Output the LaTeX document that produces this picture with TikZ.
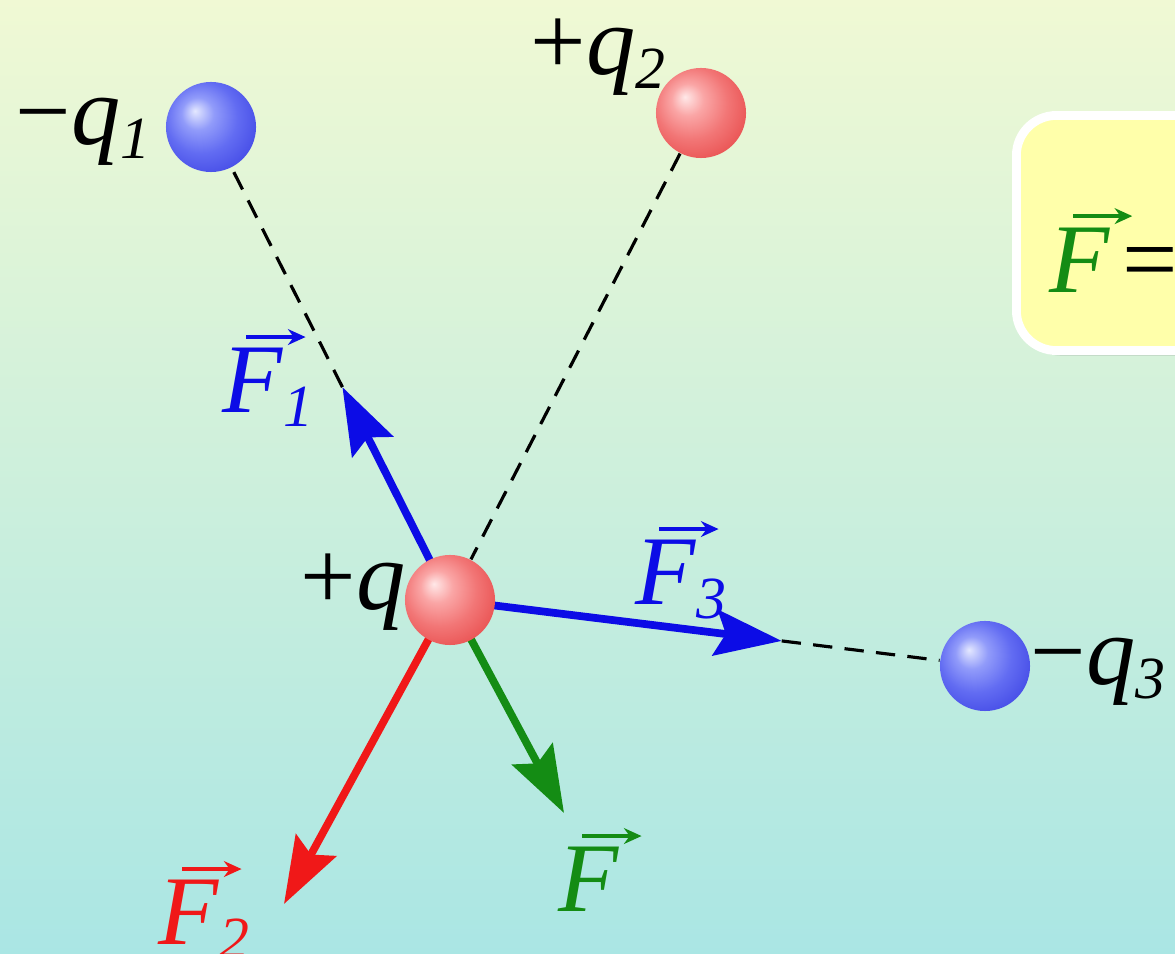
\documentclass[tikz,border=0pt]{standalone}
\usepackage{fontspec}
\setmainfont{Liberation Serif}
\usetikzlibrary{arrows.meta,calc,shadows,positioning}

\definecolor{azul}{RGB}{12,12,230}
\definecolor{vermelho}{RGB}{240,24,24}
\definecolor{verde}{RGB}{20,140,20}
\definecolor{fundotopo}{RGB}{240,249,212}
\definecolor{fundobase}{RGB}{170,230,228}
\definecolor{amarelo}{RGB}{255,255,170}
% tons das esferas
\definecolor{azul0}{RGB}{228,232,255}
\definecolor{azul1}{RGB}{145,155,250}
\definecolor{azul2}{RGB}{98,108,242}
\definecolor{azul3}{RGB}{58,64,226}
\definecolor{azul4}{RGB}{40,45,200}
\definecolor{rosa0}{RGB}{255,232,232}
\definecolor{rosa1}{RGB}{250,165,165}
\definecolor{rosa2}{RGB}{242,118,118}
\definecolor{rosa3}{RGB}{230,68,68}
\definecolor{rosa4}{RGB}{210,50,50}

\pgfdeclareradialshading{esferaazul}{\pgfpoint{-9bp}{9bp}}{%
  color(0bp)=(azul0); color(9bp)=(azul1); color(20bp)=(azul2);
  color(36bp)=(azul3); color(50bp)=(azul4)}
\pgfdeclareradialshading{esferarosa}{\pgfpoint{-9bp}{9bp}}{%
  color(0bp)=(rosa0); color(9bp)=(rosa1); color(20bp)=(rosa2);
  color(36bp)=(rosa3); color(50bp)=(rosa4)}

% seta pequena sobre o vetor
\newcommand{\setavet}[1]{\tikz[baseline=0pt]\draw[#1, line width=1.2pt,
    -{Stealth[length=5pt,width=4.5pt]}] (0,0) -- (0.6em,0);}
% vetor F com cor e indice
\newcommand{\vetF}[2]{{\color{#1}\begin{tabular}[b]{@{}l@{}}%
    \hspace{0.22em}\rlap{\setavet{#1}}\\[-0.3em]%
    \textit{F}\raisebox{-0.3ex}{\fontsize{17}{17}\selectfont\itshape #2}%
    \end{tabular}}}
% rotulo de carga
\newcommand{\carga}[2]{#1\textit{q}\raisebox{-0.3ex}{\fontsize{17}{17}\selectfont\itshape #2}}

\begin{document}
\begin{tikzpicture}[
    x=0.01cm, y=0.01cm,
    % esferas carregadas
    esfera/.style={
        circle,
        inner sep=0pt,
        minimum size=0.9cm
    },
    % textos
    rotulo/.style={
        inner sep=0pt,
        font=\fontsize{28}{30}\selectfont
    },
    % caixa da formula
    caixa/.style={
        draw=white,
        line width=2.5pt,
        fill=amarelo,
        rounded corners=0.4cm,
        minimum height=2.35cm,
        text width=2.8cm,
        inner xsep=0.33cm,
        align=left,
        font=\fontsize{28}{30}\selectfont,
        drop shadow={opacity=0.2, shadow xshift=1.5pt, shadow yshift=-1.5pt}
    },
    seta/.style={line width=2.2pt, -{Stealth[length=19pt,width=13pt,inset=3pt]}},
    tracejado/.style={draw=black, line width=0.9pt, dash pattern=on 5.5pt off 3.5pt}
]

% ---- FUNDO ----
\useasboundingbox (0,0) rectangle (1175,954);
\clip (0,0) rectangle (1175,954);
\shade[top color=fundotopo, bottom color=fundobase] (0,0) rectangle (1175,954);

% ---- CENTROS DAS CARGAS ----
\coordinate (c_q)  at (450,354);
\coordinate (c_q1) at (211,827);
\coordinate (c_q2) at (701,841);
\coordinate (c_q3) at (985,288);

% ---- PONTAS DAS FORCAS ----
\coordinate (ponta1) at ($(c_q)!0.45!(c_q1)$);
\coordinate (ponta3) at ($(c_q)!0.62!(c_q3)$);
\coordinate (ponta2) at (284,50);
\coordinate (pontaF) at (564,141);

% ---- FORCAS ----
\draw[seta, azul]     (c_q) -- (ponta1);
\draw[seta, azul]     (c_q) -- (ponta3);
\draw[seta, vermelho] (c_q) -- (ponta2);
\draw[seta, verde]    (c_q) -- (pontaF);

% ---- CARGAS ----
\node[esfera, shading=esferaazul] (q1) at (c_q1) {};
\node[esfera, shading=esferarosa] (q2) at (c_q2) {};
\node[esfera, shading=esferarosa] (q)  at (c_q)  {};
\node[esfera, shading=esferaazul] (q3) at (c_q3) {};

% ---- LINHAS DE ACAO ----
\draw[tracejado] (ponta1) -- (q1);
\draw[tracejado] (q2) -- (q);
\draw[tracejado] (ponta3) -- (q3);

% ---- ROTULOS ----
\node[rotulo, anchor=base west] (r_q1) at (15,809)   {\carga{−}{1}};
\node[rotulo, anchor=base west] (r_q2) at (530,879)  {\carga{+}{2}};
\node[rotulo, anchor=base west] (r_q)  at (300,344)  {\carga{+}{}};
\node[rotulo, anchor=base west] (r_q3) at (1030,269) {\carga{−}{3}};

\node[rotulo, anchor=base west] (r_F1) at (222,541) {\vetF{azul}{1}};
\node[rotulo, anchor=base west] (r_F3) at (635,349) {\vetF{azul}{3}};
\node[rotulo, anchor=base west] (r_F2) at (158,9)   {\vetF{vermelho}{2}};
\node[rotulo, anchor=base west] (r_F)  at (558,42)  {\vetF{verde}{}};

% ---- FORMULA ----
\node[caixa, anchor=west] (formula) at (1012,721)
    {\raisebox{3.5pt}{\vetF{verde}{}\hspace{0.12em}=}};

\end{tikzpicture}
\end{document}
